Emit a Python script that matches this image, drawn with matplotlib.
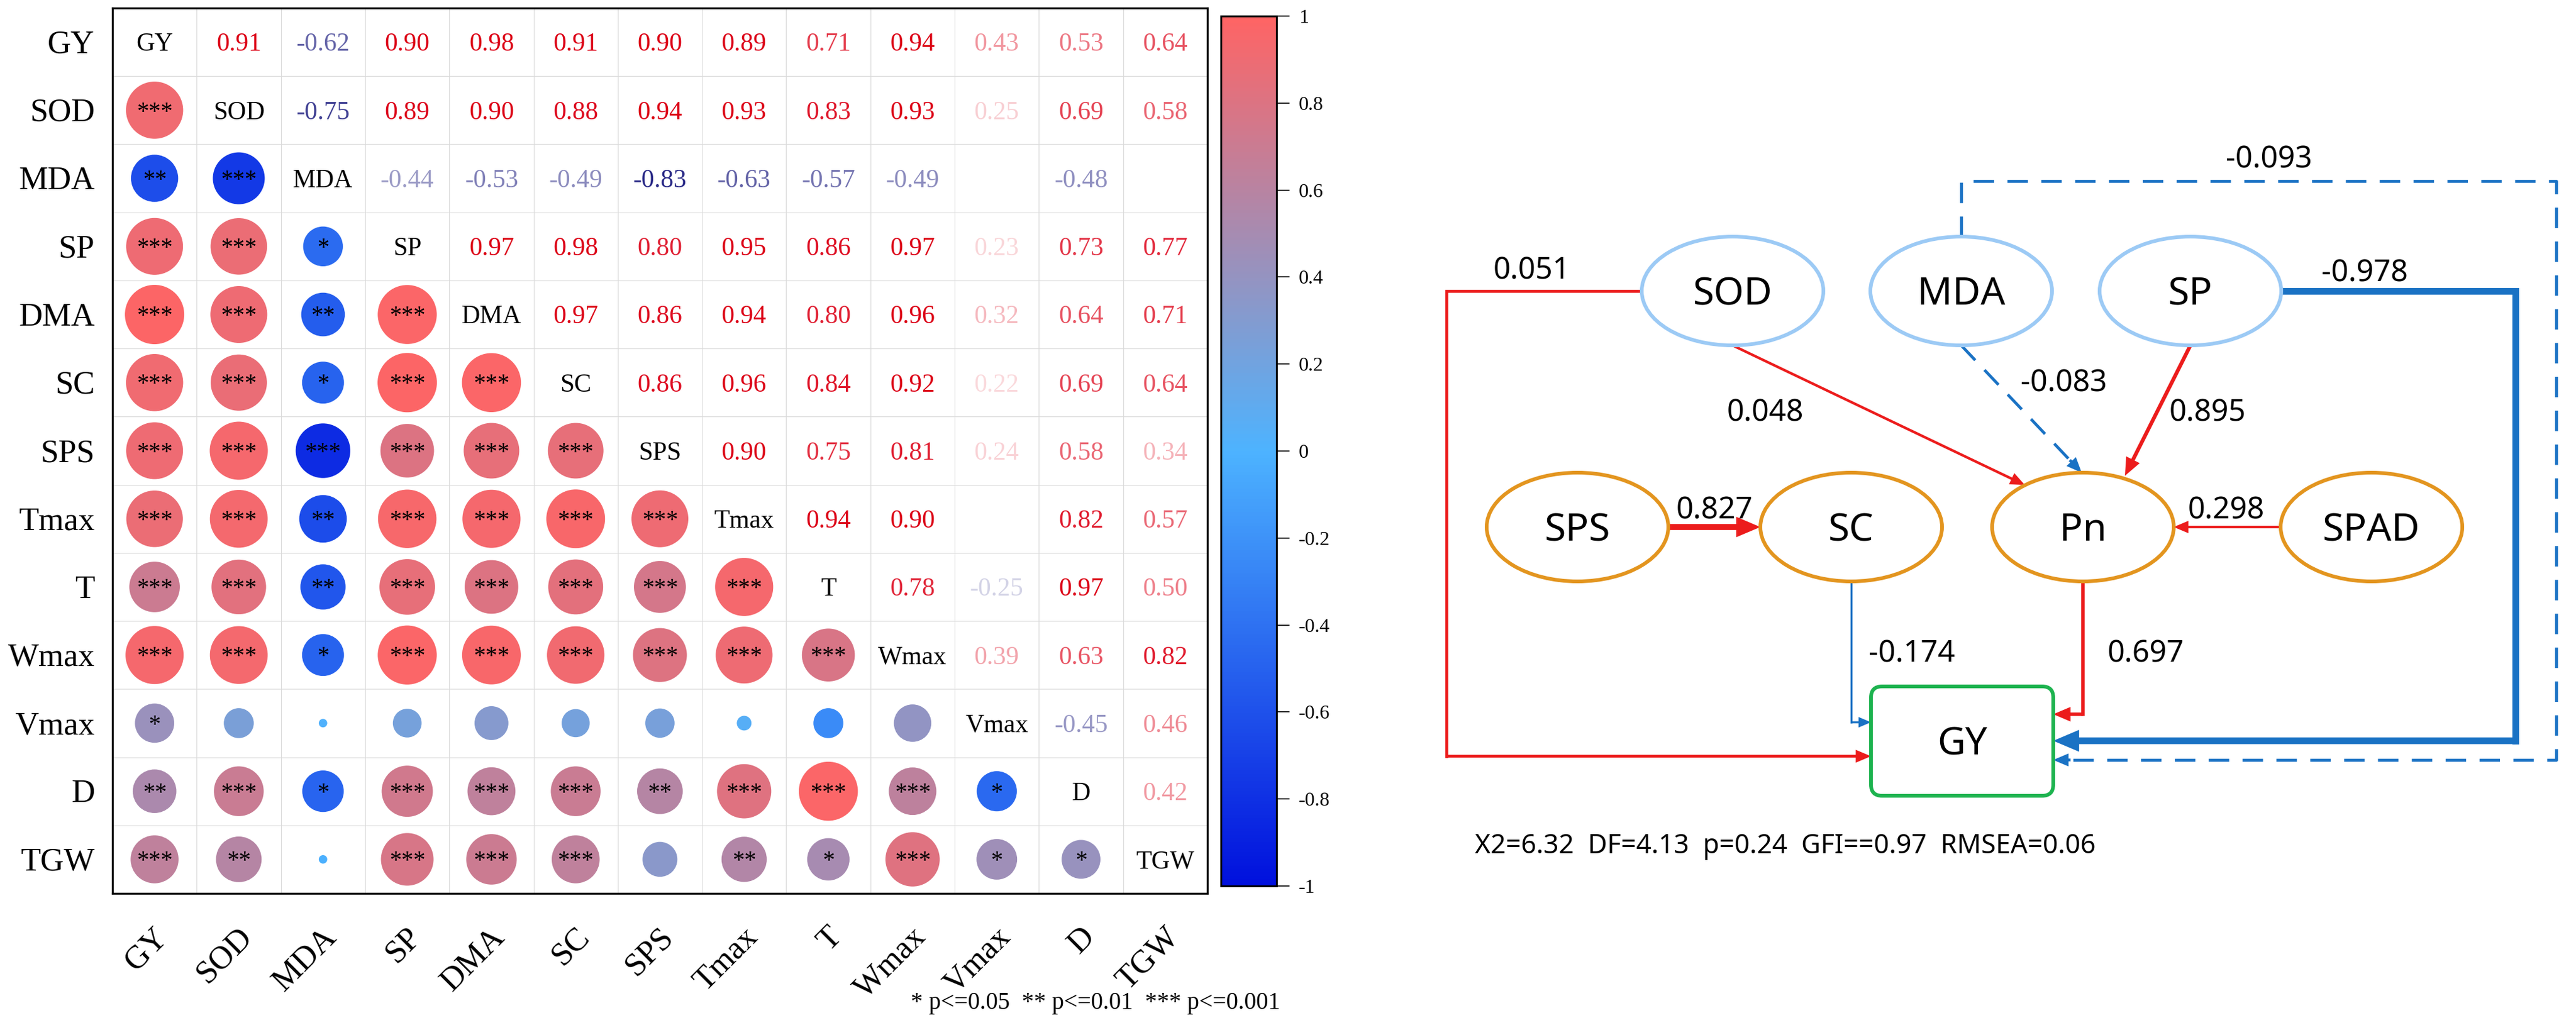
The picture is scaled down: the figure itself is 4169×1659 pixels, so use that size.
import numpy as np
import matplotlib
matplotlib.use("Agg")
import matplotlib.pyplot as plt
from matplotlib.colors import LinearSegmentedColormap, Normalize, to_rgb
from matplotlib.patches import Ellipse, FancyBboxPatch, FancyArrowPatch
from matplotlib.cm import ScalarMappable

# --- 1. Correlation data ---
variables = ['GY', 'SOD', 'MDA', 'SP', 'DMA', 'SC', 'SPS', 'Tmax', 'T', 'Wmax', 'Vmax', 'D', 'TGW']

# upper triangle, values right of the diagonal for each row
r_GY = [0.91, -0.62, 0.90, 0.98, 0.91, 0.90, 0.89, 0.71, 0.94, 0.43, 0.53, 0.64]
r_SOD = [-0.75, 0.89, 0.90, 0.88, 0.94, 0.93, 0.83, 0.93, 0.25, 0.69, 0.58]
r_MDA = [-0.44, -0.53, -0.49, -0.83, -0.63, -0.57, -0.49, 0.02, -0.48, -0.02]
r_SP = [0.97, 0.98, 0.80, 0.95, 0.86, 0.97, 0.23, 0.73, 0.77]
r_DMA = [0.97, 0.86, 0.94, 0.80, 0.96, 0.32, 0.64, 0.71]
r_SC = [0.86, 0.96, 0.84, 0.92, 0.22, 0.69, 0.64]
r_SPS = [0.90, 0.75, 0.81, 0.24, 0.58, 0.34]
r_Tmax = [0.94, 0.90, 0.06, 0.82, 0.57]
r_T = [0.78, -0.25, 0.97, 0.50]
r_Wmax = [0.39, 0.63, 0.82]
r_Vmax = [-0.45, 0.46]
r_D = [0.42]

# significance stars, lower triangle (values left of the diagonal)
sig_SOD = [3]
sig_MDA = [2, 3]
sig_SP = [3, 3, 1]
sig_DMA = [3, 3, 2, 3]
sig_SC = [3, 3, 1, 3, 3]
sig_SPS = [3, 3, 3, 3, 3, 3]
sig_Tmax = [3, 3, 2, 3, 3, 3, 3]
sig_T = [3, 3, 2, 3, 3, 3, 3, 3]
sig_Wmax = [3, 3, 1, 3, 3, 3, 3, 3, 3]
sig_Vmax = [1, 0, 0, 0, 0, 0, 0, 0, 0, 0]
sig_D = [2, 3, 1, 3, 3, 3, 2, 3, 3, 3, 1]
sig_TGW = [3, 2, 0, 3, 3, 3, 0, 2, 1, 3, 1, 1]

cbar_ticks = [1, 0.8, 0.6, 0.4, 0.2, 0, -0.2, -0.4, -0.6, -0.8, -1]
cbar_labels = ['1', '0.8', '0.6', '0.4', '0.2', '0', '-0.2', '-0.4', '-0.6', '-0.8', '-1']
sig_legend = '* p<=0.05  ** p<=0.01  *** p<=0.001'

# --- 2. Path model data ---
path_from = ['SOD', 'SOD', 'MDA', 'SP', 'SPS', 'SPAD', 'SC', 'Pn', 'SP', 'MDA']
path_to = ['GY', 'Pn', 'Pn', 'Pn', 'SC', 'Pn', 'GY', 'GY', 'GY', 'GY']
path_coef = [0.051, 0.048, -0.083, 0.895, 0.827, 0.298, -0.174, 0.697, -0.978, -0.093]
fit_text = 'X2=6.32  DF=4.13  p=0.24  GFI==0.97  RMSEA=0.06'

# --- 3. Build matrices ---
n = len(variables)
corr = np.eye(n)
for i, row in enumerate([r_GY, r_SOD, r_MDA, r_SP, r_DMA, r_SC, r_SPS,
                         r_Tmax, r_T, r_Wmax, r_Vmax, r_D]):
    for k, v in enumerate(row):
        corr[i, i + 1 + k] = v
        corr[i + 1 + k, i] = v
sig = np.zeros((n, n), dtype=int)
for i, row in enumerate([sig_SOD, sig_MDA, sig_SP, sig_DMA, sig_SC, sig_SPS,
                         sig_Tmax, sig_T, sig_Wmax, sig_Vmax, sig_D, sig_TGW], start=1):
    for j, s in enumerate(row):
        sig[i, j] = s

W, H = 4169, 1659
fig = plt.figure(figsize=(W / 100, H / 100), dpi=100)
serif = 'Liberation Serif'
sans = 'Noto Sans'

cmap = LinearSegmentedColormap.from_list('corr', ['#0010dd', '#4db3ff', '#ff6464'])
norm = Normalize(-1, 1)

# diagram axes in pixel coordinates (drawn first, below)
ax2 = fig.add_axes([0, 0, 1, 1])
ax2.set_xlim(0, W)
ax2.set_ylim(H, 0)
ax2.axis('off')

# --- 4. Correlation matrix ---
ax = fig.add_axes([182 / W, 1 - 1446 / H, 1772 / W, 1433 / H])
ax.set_xlim(-0.5, n - 0.5)
ax.set_ylim(n - 0.5, -0.5)
ax.set_xticks([])
ax.set_yticks([])
for k in range(1, n):
    ax.axhline(k - 0.5, color='#dadada', lw=0.8, zorder=0)
    ax.axvline(k - 0.5, color='#dadada', lw=0.8, zorder=0)
for sp in ax.spines.values():
    sp.set_linewidth(2.3)

ii, jj = np.tril_indices(n, -1)
vals = corr[ii, jj]
ax.scatter(jj, ii, s=4877 * np.abs(vals), c=vals, cmap=cmap, norm=norm,
           linewidths=0, zorder=2)

pos_col = np.array(to_rgb('#dc0016'))
neg_col = np.array(to_rgb('#14147a'))
for i in range(n):
    for j in range(n):
        if i == j:
            ax.text(j, i + 0.13, variables[i], ha='center', va='baseline',
                    fontsize=30, family=serif, color='black')
        elif j > i:
            v = corr[i, j]
            f = np.clip((abs(v) - 0.1) / 0.8, 0, 1)
            base = pos_col if v > 0 else neg_col
            col = 1 - f * (1 - base)
            ax.text(j, i + 0.13, f'{v:.2f}', ha='center', va='baseline',
                    fontsize=30, family=serif, color=col)
        elif sig[i, j] > 0:
            ax.text(j, i + 0.12, '*' * sig[i, j], ha='center', va='baseline',
                    fontsize=28, family=serif, color='black', zorder=3)

for i, name in enumerate(variables):
    ax.text(-0.71, i + 0.16, name, ha='right', va='baseline', fontsize=38,
            family=serif, clip_on=False)
    ax.text(i + 0.23, n - 0.5 + 0.42, name, ha='right', va='top', rotation=45,
            fontsize=38, family=serif, clip_on=False)

fig.text(2072 / W, 1 - 1624 / H, sig_legend, ha='right', va='center',
         fontsize=28, family=serif)

# colorbar
cax = fig.add_axes([1976 / W, 1 - 1434 / H, 90 / W, 1408 / H])
cb = fig.colorbar(ScalarMappable(norm=norm, cmap=cmap), cax=cax, ticks=cbar_ticks)
cb.ax.set_yticklabels(cbar_labels, family=serif, fontsize=23)
cb.ax.tick_params(length=15, width=1.2, pad=11)
cb.outline.set_linewidth(2.2)

# --- 5. Path diagram ---
nodes = {
    'SOD': (2804, 471), 'MDA': (3174, 471), 'SP': (3545, 471),
    'SPS': (2553, 853), 'SC': (2996, 853), 'Pn': (3371, 853), 'SPAD': (3838, 853),
}
top_row = ['SOD', 'MDA', 'SP']
ew, eh = 294, 176
gy_box = (3028, 1111, 295, 177)

# route (pixel waypoints), label centre, line width, dashed, head scale per path
routes = [
    ([(2657, 471), (2341, 471), (2341, 1224), (3028, 1224)], (2479, 434), 3.4, False, 0.9),
    ([(2804, 559), (3277, 785)], (2857, 664), 3.0, False, 0.9),
    ([(3174, 559), (3369, 765)], (3340, 616), 3.4, True, 0.9),
    ([(3545, 559), (3439, 770)], (3573, 664), 4.4, False, 1.0),
    ([(2701, 853), (2849, 853)], (2775, 823), 7.0, False, 1.2),
    ([(3691, 853), (3518, 853)], (3603, 823), 3.0, False, 0.9),
    ([(2996, 941), (2996, 1169), (3028, 1169)], (3094, 1055), 2.3, False, 0.8),
    ([(3371, 941), (3371, 1156), (3323, 1156)], (3473, 1055), 4.0, False, 1.0),
    ([(3692, 471), (4071, 471), (4071, 1199), (3323, 1199)], (3827, 439), 7.8, False, 1.25),
    ([(3174, 383), (3174, 293), (4137, 293), (4137, 1230), (3323, 1230)], (3672, 254), 3.4, True, 0.9),
]
red = '#ec1c1c'
blue = '#1a72c4'


def draw_path(pts, color, lw, dashed, hs):
    pts = np.asarray(pts, float)
    end, prev = pts[-1], pts[-2]
    d = (end - prev) / np.hypot(*(end - prev))
    if dashed:
        tail = end - d * 28
        body = np.vstack([pts[:-1], tail])
        ax2.plot(body[:, 0], body[:, 1], color=color, lw=lw, ls=(0, (7, 4.6)),
                 solid_joinstyle='miter', zorder=2)
        start = tail
    else:
        if len(pts) > 2:
            ax2.plot(pts[:-1, 0], pts[:-1, 1], color=color, lw=lw,
                     solid_capstyle='projecting', solid_joinstyle='miter', zorder=2)
        start = prev
    arr = FancyArrowPatch(tuple(start), tuple(end),
                          arrowstyle=f'-|>,head_length={13 * hs},head_width={5.5 * hs}',
                          mutation_scale=1, lw=lw, color=color, shrinkA=0, shrinkB=0,
                          joinstyle='miter', capstyle='butt', zorder=2)
    ax2.add_patch(arr)


for (pts, lab, lw, dashed, hs), coef in zip(routes, path_coef):
    color = red if coef > 0 else blue
    draw_path(pts, color, lw, dashed, hs)
    ax2.text(lab[0], lab[1] + 17, f'{coef:.3f}', ha='center', va='baseline',
             fontsize=35, family=sans, color='black', zorder=4)

for name, (cx, cy) in nodes.items():
    edge = '#9ccaf5' if name in top_row else '#e3951f'
    ax2.add_patch(Ellipse((cx, cy), ew, eh, facecolor='white', edgecolor=edge,
                          lw=4.3, zorder=3))
    ax2.text(cx, cy + 22, name, ha='center', va='baseline', fontsize=45,
             family=sans, zorder=4)

bx, by, bw, bh = gy_box
ax2.add_patch(FancyBboxPatch((bx, by), bw, bh, boxstyle='round,pad=0,rounding_size=18',
                             facecolor='white', edgecolor='#1db34f', lw=4.3, zorder=3))
ax2.text(bx + bw / 2, by + bh / 2 + 22, 'GY', ha='center', va='baseline',
         fontsize=45, family=sans, zorder=4)

ax2.text(2387, 1365 + 16, fit_text, ha='left', va='baseline', fontsize=31,
         family=sans)

fig.savefig('out.png', dpi=100)
